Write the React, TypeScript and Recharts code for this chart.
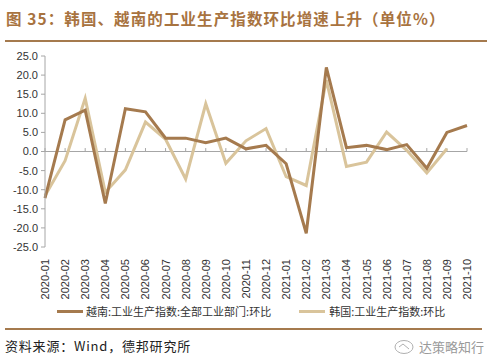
import { LineChart, Line, XAxis, YAxis, ReferenceLine } from "recharts";

const months = [
  "2020-01", "2020-02", "2020-03", "2020-04", "2020-05", "2020-06",
  "2020-07", "2020-08", "2020-09", "2020-10", "2020-11", "2020-12",
  "2021-01", "2021-02", "2021-03", "2021-04", "2021-05", "2021-06",
  "2021-07", "2021-08", "2021-09", "2021-10",
];

const vietnam = [
  -12.2, 8.3, 10.8, -13.6, 11.2, 10.4, 3.5, 3.5, 2.3, 3.5, 0.7, 1.6,
  -3.2, -21.4, 22.0, 1.0, 1.6, 0.5, 1.8, -4.4, 5.0, 6.8,
];

const korea: (number | null)[] = [
  -11.6, -2.4, 13.9, -10.7, -4.8, 7.7, 3.2, -7.2, 12.5, -3.1, 2.8, 6.0,
  -6.6, -8.9, 18.7, -3.9, -2.8, 5.1, 0.3, -5.6, 0.7, null,
];

const yTicks = [25, 20, 15, 10, 5, 0, -5, -10, -15, -20, -25];

const VN_COLOR = "#A57A4E";
const KR_COLOR = "#D9C49B";
const TITLE_COLOR = "#A8733F";
const FONT = "'Liberation Sans', Arial, sans-serif";
const CJK = "'Noto Sans CJK SC', sans-serif";

const data = months.map((m, i) => ({ month: m, vn: vietnam[i], kr: korea[i] }));

function MonthTick(props: any) {
  const { x, y, payload } = props;
  return (
    <text
      x={x}
      y={y}
      transform={`rotate(-90, ${x}, ${y})`}
      textAnchor="end"
      dominantBaseline="central"
      fontSize={11}
      fontFamily={FONT}
      fill="#333"
    >
      {payload.value}
    </text>
  );
}

export default function App() {
  return (
    <div
      style={{
        position: "absolute",
        left: 0,
        top: 0,
        width: 492,
        height: 364,
        background: "#fff",
        overflow: "hidden",
      }}
    >
      <div
        style={{
          position: "absolute",
          left: 6,
          top: 7,
          fontFamily: CJK,
          fontWeight: 700,
          fontSize: 15.5,
          color: TITLE_COLOR,
          whiteSpace: "nowrap",
          letterSpacing: 1.1,
        }}
      >
        图 35：韩国、越南的工业生产指数环比增速上升（单位%）
      </div>
      <div
        style={{
          position: "absolute",
          left: 5,
          top: 40,
          width: 482,
          height: 2,
          background: "#A57A4E",
        }}
      />

      <div style={{ position: "absolute", left: 0, top: 0 }}>
        <LineChart
          width={492}
          height={300}
          data={data}
          margin={{ top: 56, right: 25, bottom: 0, left: 0 }}
        >
          <XAxis
            dataKey="month"
            interval={0}
            axisLine={false}
            tickLine={false}
            height={53}
            tick={<MonthTick />}
            tickMargin={6}
            padding={{ left: 0, right: 0 }}
          />
          <YAxis
            width={45}
            domain={[-25, 25]}
            ticks={yTicks}
            interval={0}
            tickFormatter={(v: number) => v.toFixed(1)}
            tick={{ fontSize: 11, fontFamily: FONT, fill: "#333" }}
            tickSize={4}
            tickMargin={3}
            stroke="#A6A6A6"
          />
          <ReferenceLine y={0} stroke="#A6A6A6" strokeWidth={1} />
          {months.map((m) => (
            <ReferenceLine
              key={m}
              segment={[
                { x: m, y: 0 },
                { x: m, y: 0.9 },
              ]}
              stroke="#A6A6A6"
              strokeWidth={1}
            />
          ))}
          <Line
            type="linear"
            dataKey="kr"
            stroke={KR_COLOR}
            strokeWidth={3}
            dot={false}
            isAnimationActive={false}
          />
          <Line
            type="linear"
            dataKey="vn"
            stroke={VN_COLOR}
            strokeWidth={3}
            dot={false}
            isAnimationActive={false}
          />
        </LineChart>
      </div>

      <div
        style={{
          position: "absolute",
          left: 57,
          top: 303,
          display: "flex",
          alignItems: "center",
          fontFamily: CJK,
          fontSize: 11,
          color: "#333",
          whiteSpace: "nowrap",
        }}
      >
        <span style={{ display: "inline-block", width: 26, height: 3, background: VN_COLOR, marginRight: 3 }} />
        <span>越南:工业生产指数:全部工业部门:环比</span>
        <span style={{ display: "inline-block", width: 26, height: 3, background: KR_COLOR, marginLeft: 28, marginRight: 4 }} />
        <span>韩国:工业生产指数:环比</span>
      </div>

      <div
        style={{
          position: "absolute",
          left: 5,
          top: 328,
          width: 477,
          height: 2,
          background: "#A57A4E",
        }}
      />
      <div
        style={{
          position: "absolute",
          left: 5,
          top: 336,
          fontFamily: CJK,
          fontSize: 13,
          color: "#222",
          whiteSpace: "nowrap",
          letterSpacing: 0.8,
        }}
      >
        资料来源：Wind，德邦研究所
      </div>
      <div
        style={{
          position: "absolute",
          left: 393,
          top: 337,
          display: "flex",
          alignItems: "center",
          fontFamily: CJK,
          fontSize: 13,
          color: "#9A9A9A",
          whiteSpace: "nowrap",
        }}
      >
        <svg width={22} height={16} style={{ marginRight: 4 }}>
          <ellipse cx={11} cy={8} rx={9} ry={6.5} fill="none" stroke="#B0B0B0" strokeWidth={1} />
          <path d="M6 8 L10 5 L16 10" fill="none" stroke="#B0B0B0" strokeWidth={1} />
        </svg>
        <span>达策略知行</span>
      </div>
    </div>
  );
}
